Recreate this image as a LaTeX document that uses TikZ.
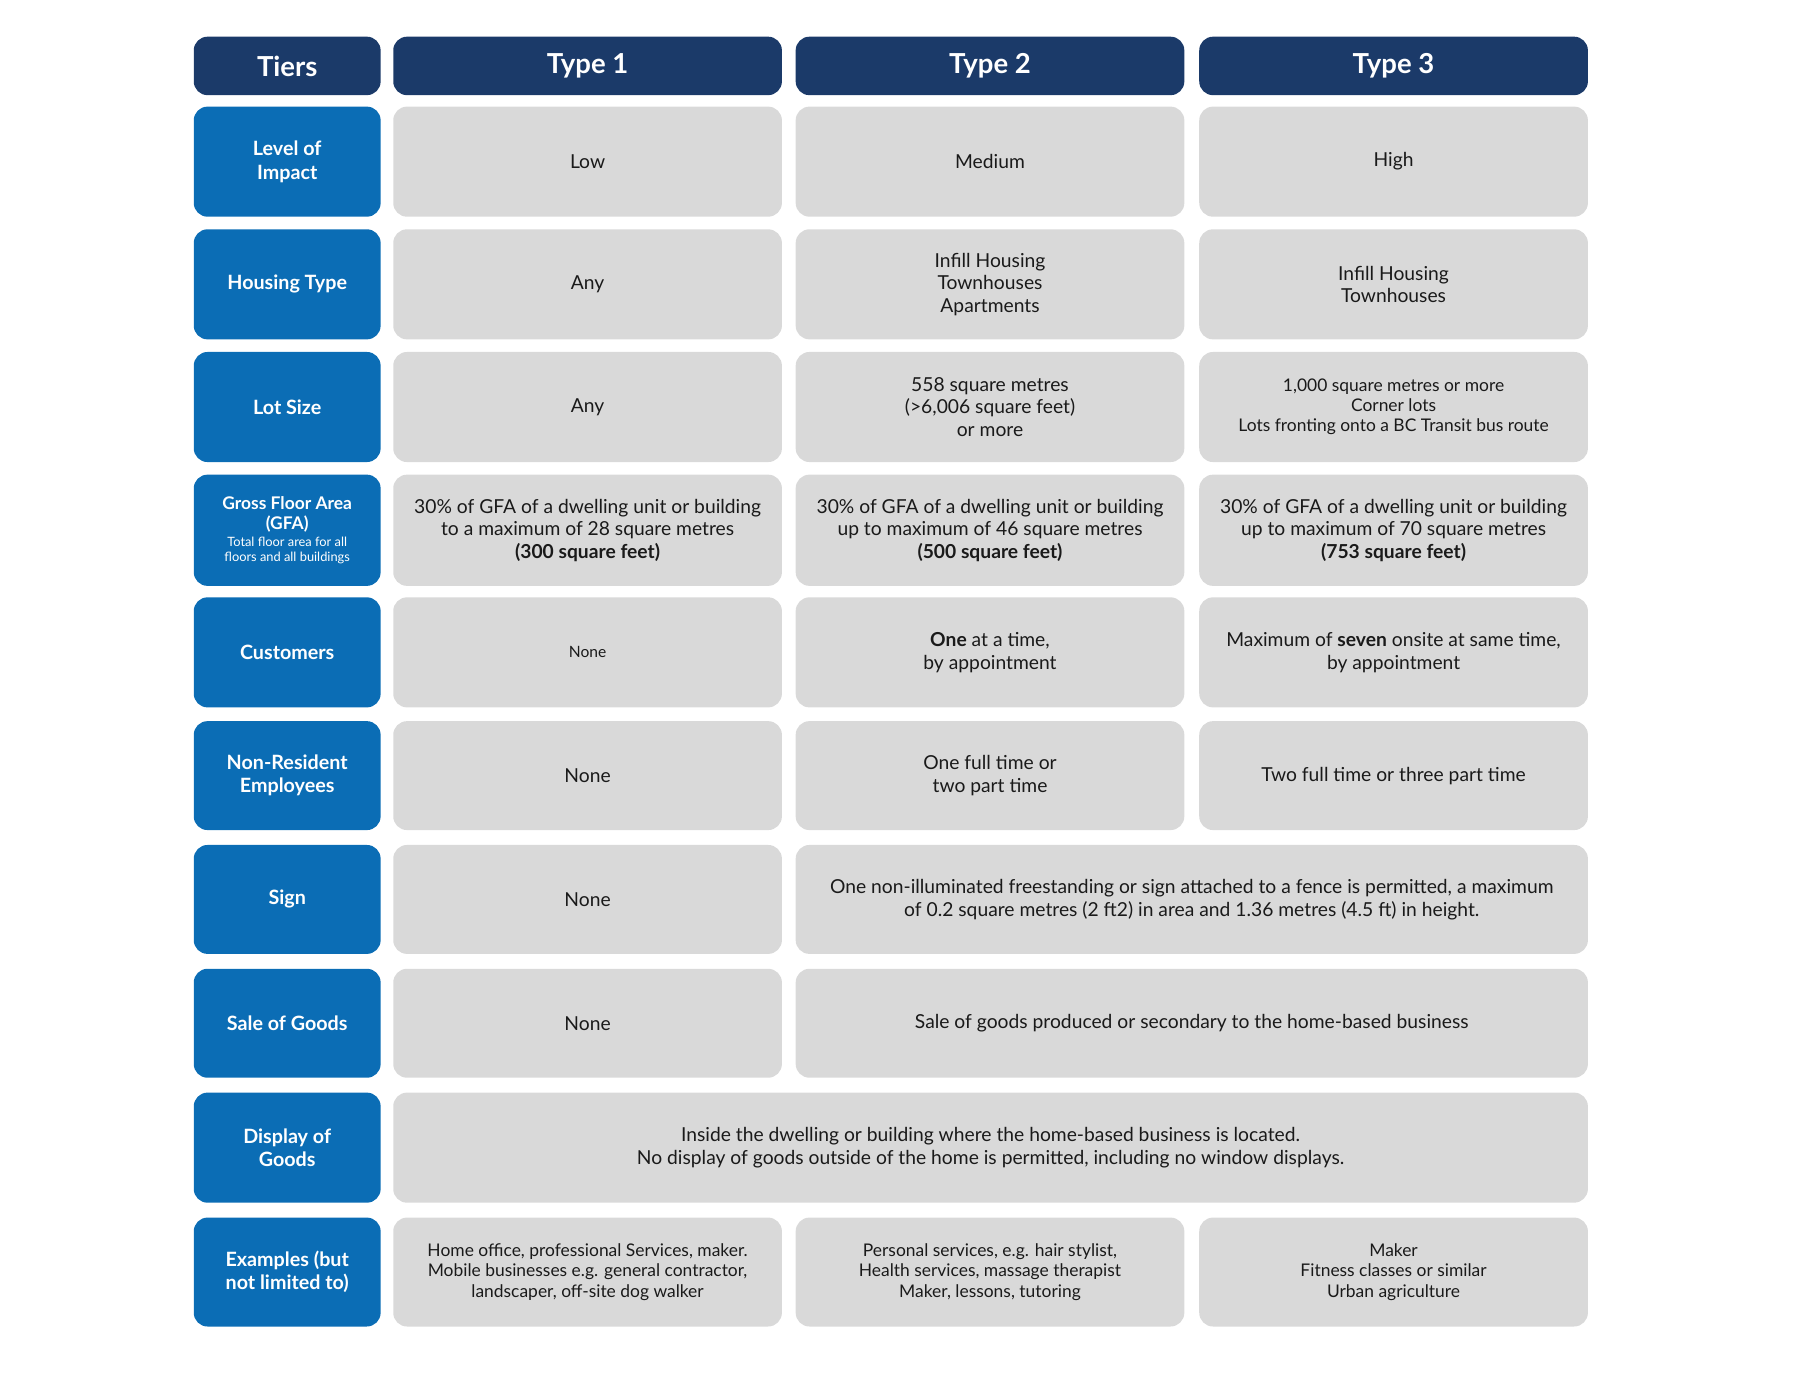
\documentclass[tikz,border=0pt]{standalone}
\usepackage{fontspec}
\setmainfont{Lato}
\definecolor{navy}{HTML}{1B3A69}
\definecolor{lblue}{HTML}{0B6DB5}
\definecolor{cellg}{HTML}{D9D9D9}
\definecolor{txt}{HTML}{1A1A1A}
\tikzset{
 hdr/.style={fill=navy,text=white,font=\bfseries\fontsize{12}{14}\selectfont},
 lab/.style={fill=lblue,text=white,font=\bfseries\fontsize{8.6}{10.2}\selectfont},
 cel/.style={fill=cellg,text=txt,font=\fontsize{8.4}{9.8}\selectfont},
 base/.style={rounded corners=6pt,inner sep=0pt,align=center}
}
\newcommand\bx[7]{%
 \pgfmathsetmacro\cx{(#3+#4)/4}\pgfmathsetmacro\cy{-(#5+#6)/4}%
 \pgfmathsetmacro\ww{(#4-#3)/2}\pgfmathsetmacro\hh{(#6-#5)/2}%
 \node[base,#2,minimum width=\ww pt,minimum height=\hh pt] (#1) at (\cx pt,\cy pt) {#7};}
\begin{document}
\begin{tikzpicture}
\useasboundingbox (0,0) rectangle (785pt,-610pt);
% header
\bx{h0}{hdr}{169}{332}{32}{83}{Tiers}
\bx{h1}{hdr}{343}{682}{32}{83}{Type 1}
\bx{h2}{hdr}{694}{1033}{32}{83}{Type 2}
\bx{h3}{hdr}{1046}{1385}{32}{83}{Type 3}
% row 1
\bx{l1}{lab}{169}{332}{93}{189}{Level of\\Impact}
\bx{a1}{cel}{343}{682}{93}{189}{Low}
\bx{b1}{cel}{694}{1033}{93}{189}{Medium}
\bx{c1}{cel}{1046}{1385}{93}{189}{High}
% row 2
\bx{l2}{lab}{169}{332}{200}{296}{Housing Type}
\bx{a2}{cel}{343}{682}{200}{296}{Any}
\bx{b2}{cel}{694}{1033}{200}{296}{Infill Housing\\Townhouses\\Apartments}
\bx{c2}{cel}{1046}{1385}{200}{296}{Infill Housing\\Townhouses}
% row 3
\bx{l3}{lab}{169}{332}{307}{403}{Lot Size}
\bx{a3}{cel}{343}{682}{307}{403}{Any}
\bx{b3}{cel}{694}{1033}{307}{403}{558 square metres\\(>6,006 square feet)\\or more}
\bx{c3}{cel,font=\fontsize{7.6}{8.8}\selectfont}{1046}{1385}{307}{403}{1,000 square metres or more\\Corner lots\\Lots fronting onto a BC Transit bus route}
% row 4
\bx{l4}{lab,font=\bfseries\fontsize{7.6}{8.8}\selectfont}{169}{332}{414}{511}{Gross Floor Area\\(GFA)\\[-1.5pt]{\normalfont\fontsize{5.6}{6.6}\selectfont Total floor area for all}\\[-2pt]{\normalfont\fontsize{5.6}{6.6}\selectfont floors and all buildings}}
\bx{a4}{cel}{343}{682}{414}{511}{30\% of GFA of a dwelling unit or building\\to a maximum of 28 square metres\\\textbf{(300 square feet)}}
\bx{b4}{cel}{694}{1033}{414}{511}{30\% of GFA of a dwelling unit or building\\up to maximum of 46 square metres\\\textbf{(500 square feet)}}
\bx{c4}{cel}{1046}{1385}{414}{511}{30\% of GFA of a dwelling unit or building\\up to maximum of 70 square metres\\\textbf{(753 square feet)}}
% row 5
\bx{l5}{lab}{169}{332}{521}{617}{Customers}
\bx{a5}{cel,font=\fontsize{6.8}{8}\selectfont}{343}{682}{521}{617}{None}
\bx{b5}{cel}{694}{1033}{521}{617}{\textbf{One} at a time,\\by appointment}
\bx{c5}{cel}{1046}{1385}{521}{617}{Maximum of \textbf{seven} onsite at same time,\\by appointment}
% row 6
\bx{l6}{lab}{169}{332}{629}{724}{Non-Resident\\Employees}
\bx{a6}{cel}{343}{682}{629}{724}{None}
\bx{b6}{cel}{694}{1033}{629}{724}{One full time or\\two part time}
\bx{c6}{cel}{1046}{1385}{629}{724}{Two full time or three part time}
% row 7
\bx{l7}{lab}{169}{332}{737}{832}{Sign}
\bx{a7}{cel}{343}{682}{737}{832}{None}
\bx{b7}{cel}{694}{1385}{737}{832}{One non-illuminated freestanding or sign attached to a fence is permitted, a maximum\\of 0.2 square metres (2 ft2) in area and 1.36 metres (4.5 ft) in height.}
% row 8
\bx{l8}{lab}{169}{332}{845}{940}{Sale of Goods}
\bx{a8}{cel}{343}{682}{845}{940}{None}
\bx{b8}{cel}{694}{1385}{845}{940}{Sale of goods produced or secondary to the home-based business}
% row 9
\bx{l9}{lab}{169}{332}{953}{1049}{Display of\\Goods}
\bx{a9}{cel}{343}{1385}{953}{1049}{Inside the dwelling or building where the home-based business is located.\\No display of goods outside of the home is permitted, including no window displays.}
% row 10
\bx{l10}{lab}{169}{332}{1062}{1157}{Examples (but\\not limited to)}
\bx{a10}{cel,font=\fontsize{7.6}{8.8}\selectfont}{343}{682}{1062}{1157}{Home office, professional Services, maker.\\Mobile businesses e.g. general contractor,\\landscaper, off-site dog walker}
\bx{b10}{cel,font=\fontsize{7.6}{8.8}\selectfont}{694}{1033}{1062}{1157}{Personal services, e.g. hair stylist,\\Health services, massage therapist\\Maker, lessons, tutoring}
\bx{c10}{cel,font=\fontsize{7.6}{8.8}\selectfont}{1046}{1385}{1062}{1157}{Maker\\Fitness classes or similar\\Urban agriculture}
\end{tikzpicture}
\end{document}
